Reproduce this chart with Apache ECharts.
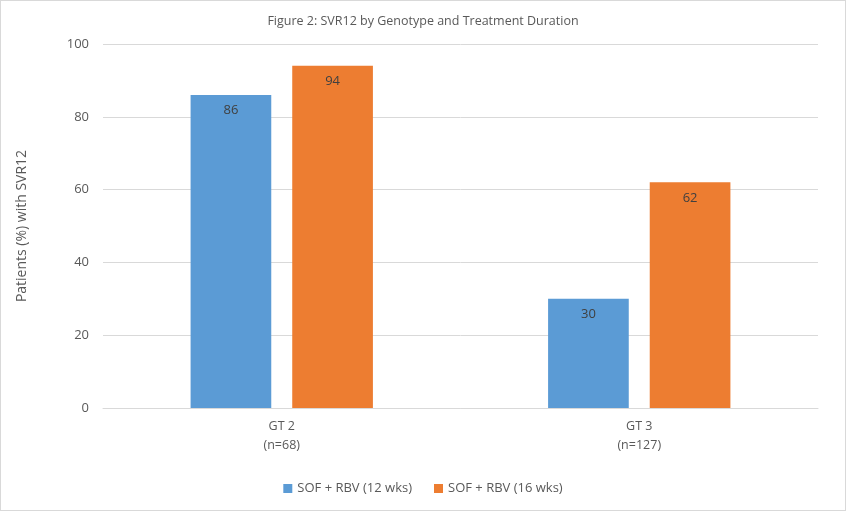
<!DOCTYPE html>
<html>
<head>
<meta charset="utf-8">
<script src="https://cdn.jsdelivr.net/npm/echarts@6/dist/echarts.min.js"></script>
<style>
  html, body { margin: 0; padding: 0; background: #fff; }
  #chart { width: 844px; height: 509px; border: 1px solid #d9d9d9; }
</style>
</head>
<body>
<div id="chart"></div>
<script>
// chart data
const categories = ['GT 2\n(n=68)', 'GT 3\n(n=127)']
const seriesNames = ['SOF + RBV (12 wks)', 'SOF + RBV (16 wks)']
const wks12 = [86, 30]
const wks16 = [94, 62]
const yTicks = { min: 0, max: 100, interval: 20 }

const chart = echarts.init(document.querySelector('#chart'))

const labelStyle = {
  show: true,
  position: 'insideTop',
  distance: 9,
  color: '#404040',
  fontSize: 13,
  fontFamily: 'Open Sans'
}

const option = {
  animation: false,
  textStyle: { fontFamily: 'Open Sans' },
  title: {
    text: 'Figure 2: SVR12 by Genotype and Treatment Duration',
    left: 'center',
    top: 9,
    textStyle: { fontSize: 12.5, fontWeight: 'normal', color: '#595959' }
  },
  legend: {
    bottom: 10,
    left: 'center',
    itemWidth: 9,
    itemHeight: 9,
    itemGap: 22,
    icon: 'rect',
    textStyle: { fontSize: 13, color: '#595959' },
    data: seriesNames
  },
  grid: { left: 102, right: 27, top: 43, bottom: 102 },
  xAxis: {
    type: 'category',
    data: categories,
    axisLine: { lineStyle: { color: '#d9d9d9' } },
    axisTick: { show: false },
    axisLabel: { color: '#595959', fontSize: 12.5, lineHeight: 19, margin: 9 }
  },
  yAxis: {
    type: 'value',
    min: yTicks.min,
    max: yTicks.max,
    interval: yTicks.interval,
    name: 'Patients (%) with SVR12',
    nameLocation: 'middle',
    nameGap: 74,
    nameTextStyle: { fontSize: 14, color: '#595959' },
    axisLine: { show: false },
    axisTick: { show: false },
    axisLabel: { color: '#595959', fontSize: 13, margin: 14 },
    splitLine: { lineStyle: { color: '#d9d9d9' } }
  },
  series: [
    {
      name: seriesNames[0],
      type: 'bar',
      data: wks12,
      itemStyle: { color: '#5b9bd5' },
      barGap: '26%',
      barCategoryGap: '49%',
      label: labelStyle
    },
    {
      name: seriesNames[1],
      type: 'bar',
      data: wks16,
      itemStyle: { color: '#ed7d31' },
      label: labelStyle
    }
  ]
}

chart.setOption(option)
</script>
</body>
</html>
